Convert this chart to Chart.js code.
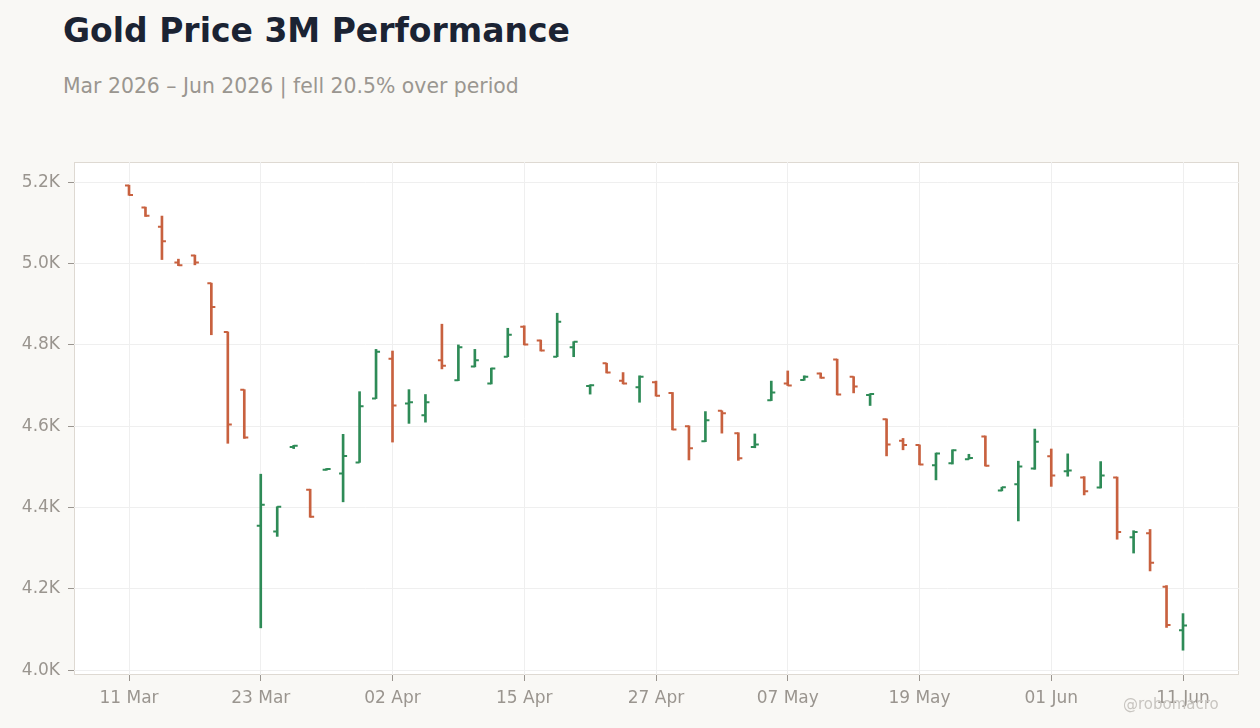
<!DOCTYPE html>
<html>
<head>
<meta charset="utf-8">
<script src="https://cdn.jsdelivr.net/npm/chart.js@4.4.1/dist/chart.umd.min.js"></script>
<style>
  html, body { margin: 0; padding: 0; background: #f9f8f5; }
  #wrap { position: relative; width: 1260px; height: 728px; overflow: hidden; font-family: "DejaVu Sans", sans-serif; }
  #title { position: absolute; left: 63px; top: 11px; margin: 0; font-size: 33px; font-weight: bold; color: #1b2333; white-space: nowrap; }
  #subtitle { position: absolute; left: 63px; top: 74px; margin: 0; font-size: 20.4px; color: #9a9690; white-space: nowrap; }
  #credit { position: absolute; left: 1123px; top: 695px; font-size: 15px; color: #c8c5c0; white-space: nowrap; }
  #chart { position: absolute; left: 0; top: 0; }
</style>
</head>
<body>
<div id="wrap">
  <h1 id="title">Gold Price 3M Performance</h1>
  <p id="subtitle">Mar 2026 – Jun 2026 | fell 20.5% over period</p>
  <canvas id="chart" width="1260" height="728"></canvas>
  <div id="credit">@robomacro</div>
</div>
<script>
// trading days, 11 Mar - 11 Jun 2026
const dates = [
  "11 Mar", "12 Mar", "13 Mar", "16 Mar", "17 Mar", "18 Mar", "19 Mar", "20 Mar",
  "23 Mar", "24 Mar", "25 Mar", "26 Mar", "27 Mar", "30 Mar", "31 Mar", "01 Apr",
  "02 Apr", "06 Apr", "07 Apr", "08 Apr", "09 Apr", "10 Apr", "13 Apr", "14 Apr",
  "15 Apr", "16 Apr", "17 Apr", "20 Apr", "21 Apr", "22 Apr", "23 Apr", "24 Apr",
  "27 Apr", "28 Apr", "29 Apr", "30 Apr", "01 May", "04 May", "05 May", "06 May",
  "07 May", "08 May", "11 May", "12 May", "13 May", "14 May", "15 May", "18 May",
  "19 May", "20 May", "21 May", "22 May", "26 May", "27 May", "28 May", "29 May",
  "01 Jun", "02 Jun", "03 Jun", "04 Jun", "05 Jun", "08 Jun", "09 Jun", "10 Jun",
  "11 Jun"
];

const opens = [
  5192, 5138, 5091, 5003, 5020, 4952, 4832, 4690,
  4355, 4341, 4549, 4444, 4493, 4484, 4511, 4668,
  4766, 4656, 4627, 4762, 4713, 4747, 4705, 4771,
  4845, 4811, 4771, 4794, 4699, 4755, 4712, 4696,
  4708, 4682, 4600, 4563, 4638, 4583, 4549, 4664,
  4705, 4714, 4730, 4764, 4722, 4677, 4617, 4564,
  4554, 4504, 4509, 4519, 4575, 4442, 4457, 4496,
  4526, 4489, 4474, 4449, 4474, 4327, 4337, 4205,
  4098
];
const highs = [
  5193, 5139, 5117, 5011, 5021, 4952, 4832, 4690,
  4482, 4402, 4553, 4445, 4496, 4580, 4685, 4789,
  4785, 4690, 4678, 4851, 4800, 4789, 4743, 4841,
  4847, 4812, 4878, 4808, 4702, 4755, 4732, 4724,
  4711, 4683, 4601, 4636, 4638, 4584, 4581, 4711,
  4736, 4724, 4731, 4765, 4722, 4680, 4618, 4570,
  4554, 4534, 4542, 4531, 4576, 4450, 4514, 4593,
  4544, 4532, 4476, 4513, 4475, 4343, 4346, 4208,
  4139
];
const lows = [
  5168, 5116, 5010, 4995, 4997, 4825, 4558, 4570,
  4104, 4329, 4545, 4376, 4492, 4414, 4511, 4668,
  4561, 4607, 4610, 4741, 4712, 4746, 4704, 4771,
  4800, 4785, 4771, 4771, 4679, 4731, 4704, 4659,
  4674, 4591, 4517, 4562, 4583, 4516, 4547, 4663,
  4700, 4713, 4718, 4677, 4682, 4651, 4527, 4542,
  4505, 4468, 4507, 4519, 4502, 4441, 4367, 4494,
  4452, 4477, 4431, 4448, 4322, 4288, 4244, 4105,
  4049
];
const closes = [
  5169, 5118, 5055, 4996, 5003, 4893, 4604, 4572,
  4407, 4402, 4552, 4377, 4495, 4527, 4649, 4783,
  4651, 4659, 4659, 4749, 4794, 4762, 4742, 4825,
  4801, 4786, 4857, 4808, 4701, 4732, 4705, 4722,
  4675, 4592, 4546, 4615, 4632, 4521, 4555, 4683,
  4700, 4722, 4719, 4678, 4698, 4679, 4555, 4554,
  4506, 4533, 4541, 4522, 4503, 4450, 4501, 4562,
  4479, 4491, 4440, 4479, 4340, 4340, 4264, 4111,
  4110
];

const xTickIdx = [0, 8, 16, 24, 32, 40, 48, 56, 64];
const yTicks = [4000, 4200, 4400, 4600, 4800, 5000, 5200];

const UP = "#2e8b57";
const DOWN = "#c8613f";
const colors = opens.map((o, i) => (closes[i] >= o ? UP : DOWN));

Chart.defaults.font.family = "'DejaVu Sans', sans-serif";
Chart.defaults.color = "#9a958f";

// white plot area with a thin border
const plotBg = {
  id: "plotBg",
  beforeDraw(chart) {
    const { ctx, chartArea: a } = chart;
    ctx.save();
    ctx.fillStyle = "#ffffff";
    ctx.fillRect(a.left, a.top, a.width, a.height);
    ctx.strokeStyle = "#ded9d2";
    ctx.lineWidth = 1;
    ctx.strokeRect(a.left + 0.5, a.top + 0.5, a.width - 1, a.height - 1);
    ctx.restore();
  },
};

// open tick to the left, close tick to the right
const ohlcTicks = {
  id: "ohlcTicks",
  afterDatasetsDraw(chart) {
    const { ctx, scales } = chart;
    const xs = scales.x;
    const ys = scales.y;
    ctx.save();
    ctx.lineWidth = 2;
    opens.forEach((o, i) => {
      const x = xs.getPixelForValue(i);
      const yo = ys.getPixelForValue(o);
      const yc = ys.getPixelForValue(closes[i]);
      ctx.strokeStyle = colors[i];
      ctx.beginPath();
      ctx.moveTo(x - 4, yo);
      ctx.lineTo(x, yo);
      ctx.moveTo(x, yc);
      ctx.lineTo(x + 4, yc);
      ctx.stroke();
    });
    ctx.restore();
  },
};

new Chart(document.getElementById("chart"), {
  type: "bar",
  data: {
    datasets: [
      {
        label: "Gold",
        data: highs.map((h, i) => ({ x: i, y: [lows[i], h] })),
        backgroundColor: colors,
        borderWidth: 0,
        barThickness: 2,
        grouped: false,
      },
    ],
  },
  options: {
    responsive: false,
    animation: false,
    layout: { padding: { top: 162, right: 21, left: 0, bottom: 0 } },
    plugins: {
      legend: { display: false },
      tooltip: { enabled: false },
    },
    scales: {
      x: {
        type: "linear",
        offset: false,
        min: -3.34,
        max: 67.4,
        afterBuildTicks: (axis) => {
          axis.ticks = xTickIdx.map((v) => ({ value: v }));
        },
        afterFit: (axis) => {
          axis.height = 53;
        },
        ticks: {
          callback: (v) => dates[v],
          font: { size: 17 },
          padding: 7,
          maxRotation: 0,
        },
        grid: { offset: false, color: "#efefef", tickColor: "#9a958f", tickLength: 6 },
        border: { display: false },
      },
      y: {
        min: 3988,
        max: 5250,
        afterBuildTicks: (axis) => {
          axis.ticks = yTicks.map((v) => ({ value: v }));
        },
        afterFit: (axis) => {
          axis.width = 74;
        },
        ticks: {
          callback: (v) => (v / 1000).toFixed(1) + "K",
          font: { size: 17 },
          padding: 8,
        },
        grid: { color: "#efefef", tickColor: "#9a958f", tickLength: 6 },
        border: { display: false },
      },
    },
  },
  plugins: [plotBg, ohlcTicks],
});
</script>
</body>
</html>
